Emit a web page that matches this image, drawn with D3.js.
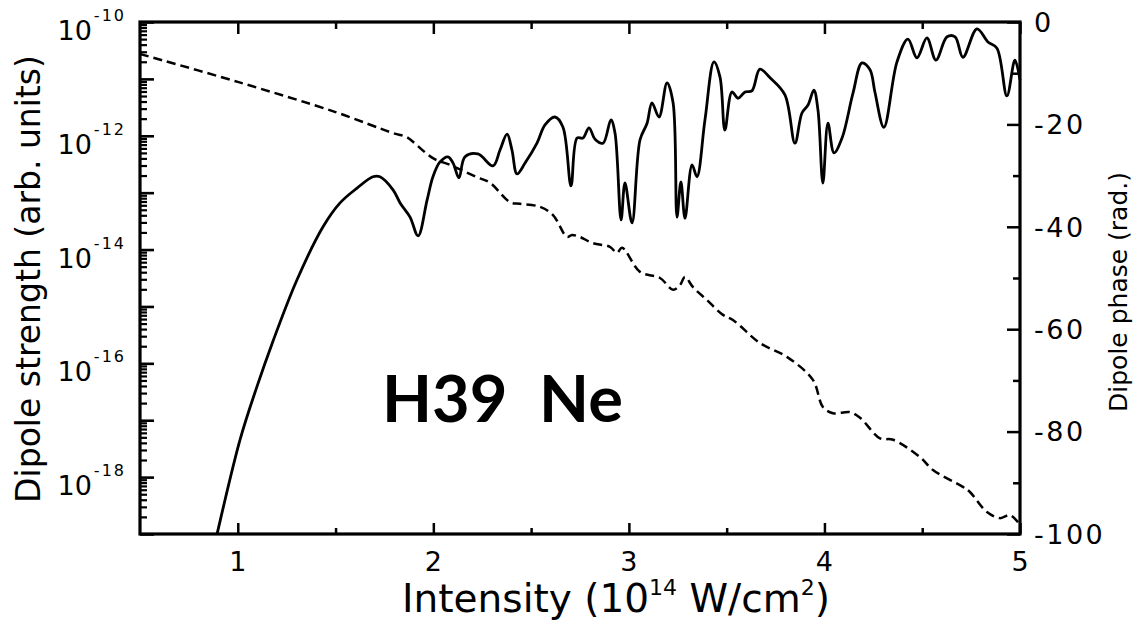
<!DOCTYPE html>
<html>
<head>
<meta charset="utf-8">
<script src="https://cdn.jsdelivr.net/npm/d3@7"></script>
<style>
  html, body { margin: 0; padding: 0; background: #fff; }
  svg { display: block; }
  text { fill: #000; }
</style>
</head>
<body>
<svg id="chart" width="1140" height="621"></svg>
<script>
// ---------- data ----------
// Intensity (10^14 W/cm^2) for the dipole strength curve
const strengthX = [0.868, 0.894, 1.011, 1.098, 1.180, 1.303, 1.436, 1.523, 1.610, 1.691, 1.727, 1.794, 1.830, 1.881, 1.922, 1.968, 1.998, 2.034, 2.075, 2.101, 2.131, 2.162, 2.228, 2.305, 2.341, 2.377, 2.402, 2.428, 2.469, 2.530, 2.571, 2.622, 2.663, 2.704, 2.735, 2.765, 2.796, 2.827, 2.868, 2.908, 2.929, 2.960, 2.980, 3.016, 3.057, 3.093, 3.118, 3.154, 3.195, 3.226, 3.246, 3.266, 3.287, 3.323, 3.348, 3.389, 3.435, 3.466, 3.491, 3.527, 3.558, 3.594, 3.629, 3.670, 3.722, 3.798, 3.849, 3.885, 3.916, 3.946, 3.967, 3.992, 4.018, 4.049, 4.090, 4.146, 4.192, 4.233, 4.258, 4.304, 4.371, 4.427, 4.473, 4.524, 4.570, 4.627, 4.668, 4.708, 4.780, 4.836, 4.882, 4.933, 4.974, 5.000];
// log10 of dipole strength (arb. units)
const strengthLog10 = [-19.39, -19.00, -17.35, -16.41, -15.61, -14.53, -13.60, -13.18, -12.92, -12.72, -12.72, -12.95, -13.18, -13.43, -13.76, -13.13, -12.72, -12.46, -12.37, -12.48, -12.74, -12.37, -12.32, -12.53, -12.25, -11.97, -12.25, -12.67, -12.48, -12.13, -11.81, -11.67, -11.85, -12.88, -12.04, -12.04, -11.86, -12.06, -12.13, -11.72, -11.95, -13.48, -12.83, -13.53, -12.07, -11.78, -11.42, -11.67, -11.07, -11.42, -13.43, -12.81, -13.45, -12.51, -12.72, -11.72, -10.70, -10.97, -11.90, -11.23, -11.34, -11.23, -11.21, -10.83, -10.98, -11.28, -12.13, -11.60, -11.46, -11.20, -11.55, -12.83, -11.78, -12.30, -12.04, -11.25, -10.72, -10.84, -11.23, -11.85, -10.70, -10.30, -10.63, -10.28, -10.67, -10.26, -10.26, -10.62, -10.12, -10.35, -10.46, -11.30, -10.67, -11.02];

// Intensity for the dipole phase curve
const phaseX = [0.5, 1.0, 1.5, 1.794, 1.865, 1.896, 1.998, 2.085, 2.223, 2.290, 2.392, 2.443, 2.546, 2.612, 2.684, 2.709, 2.750, 2.816, 2.903, 2.939, 2.965, 3.057, 3.159, 3.226, 3.261, 3.287, 3.328, 3.399, 3.481, 3.532, 3.670, 3.808, 3.941, 3.992, 4.044, 4.131, 4.182, 4.284, 4.351, 4.489, 4.555, 4.708, 4.744, 4.831, 4.898, 4.949, 4.990];
// Dipole phase (rad.)
const phaseY = [-6.25, -11.7, -17.6, -21.7, -22.5, -23.4, -26.6, -27.9, -30.3, -31.4, -35.2, -35.5, -36.1, -37.7, -42.0, -41.6, -42.0, -43.2, -43.9, -45.1, -44.1, -48.8, -50.0, -52.3, -51.4, -49.8, -51.8, -54.3, -57.2, -58.2, -62.7, -65.4, -69.9, -75.2, -76.4, -76.2, -77.3, -81.3, -81.6, -85.0, -87.5, -90.8, -91.8, -95.7, -96.9, -96.3, -97.7];

// ticks and labels
const xMajorTicks = [1, 2, 3, 4, 5];
const xMinorTicks = [1.5, 2.5, 3.5, 4.5];
const xTickLabels = ["1", "2", "3", "4", "5"];
const yDecadeExps = [-19, -18, -17, -16, -15, -14, -13, -12, -11, -10];
const yLabelExps = [-10, -12, -14, -16, -18];
const phaseMajorTicks = [0, -20, -40, -60, -80, -100];
const phaseMinorTicks = [-10, -30, -50, -70, -90];

const xTitle = ["Intensity (10", "14", " W/cm", "2", ")"];
const yTitle = "Dipole strength (arb. units)";
const y2Title = "Dipole phase (rad.)";
const annotation = "H39  Ne";

// ---------- layout ----------
const W = 1140, H = 621;
const m = { left: 140, top: 22, right: 120, bottom: 87 };
const pw = W - m.left - m.right, ph = H - m.top - m.bottom;
const BASE_FONT = "'DejaVu Sans', sans-serif";

const svg = d3.select("#chart").style("font-family", BASE_FONT);
const g = svg.append("g").attr("transform", `translate(${m.left},${m.top})`);

const x = d3.scaleLinear().domain([0.5, 5]).range([0, pw]);
const y = d3.scaleLog().domain([1e-19, 1e-10]).range([ph, 0]);
const y2 = d3.scaleLinear().domain([-100, 0]).range([ph, 0]);

svg.append("defs").append("clipPath").attr("id", "clip")
  .append("rect").attr("x", 0).attr("y", 0).attr("width", pw + 3).attr("height", ph);

// ---------- curves ----------
const strengthData = strengthX.map((v, i) => ({ x: v, y: Math.pow(10, strengthLog10[i]) }));
const phaseData = phaseX.map((v, i) => ({ x: v, y: phaseY[i] }));

g.append("path")
  .datum(phaseData)
  .attr("clip-path", "url(#clip)")
  .attr("fill", "none").attr("stroke", "#000").attr("stroke-width", 2.5)
  .attr("stroke-dasharray", "9,5")
  .attr("d", d3.line().x(d => x(d.x)).y(d => y2(d.y)).curve(d3.curveCatmullRom.alpha(0.5)));

g.append("path")
  .datum(strengthData)
  .attr("clip-path", "url(#clip)")
  .attr("fill", "none").attr("stroke", "#000").attr("stroke-width", 2.8)
  .attr("stroke-linejoin", "round")
  .attr("d", d3.line().x(d => x(d.x)).y(d => y(d.y)).curve(d3.curveCatmullRom.alpha(0.5)));

// ---------- axes ----------
function styleAxis(sel, w) {
  sel.select(".domain").remove();
  sel.selectAll(".tick line").attr("stroke", "#000").attr("stroke-width", w);
  sel.selectAll(".tick text").remove();
}

// bottom
g.append("g").attr("transform", `translate(0,${ph})`)
  .call(d3.axisBottom(x).tickValues(xMajorTicks).tickSize(-11).tickFormat(""))
  .call(s => styleAxis(s, 2.5));
g.append("g").attr("transform", `translate(0,${ph})`)
  .call(d3.axisBottom(x).tickValues(xMinorTicks).tickSize(-6).tickFormat(""))
  .call(s => styleAxis(s, 2.5));
// top
g.append("g")
  .call(d3.axisTop(x).tickValues(xMajorTicks).tickSize(-12).tickFormat(""))
  .call(s => styleAxis(s, 2.5));
g.append("g")
  .call(d3.axisTop(x).tickValues(xMinorTicks).tickSize(-7).tickFormat(""))
  .call(s => styleAxis(s, 2.5));

// left log axis
const yMinor = [];
yDecadeExps.forEach(e => { if (e < -10) for (let k = 2; k <= 9; k++) yMinor.push(k * Math.pow(10, e)); });
g.append("g")
  .call(d3.axisLeft(y).tickValues(yDecadeExps.map(e => Math.pow(10, e))).tickSize(-14).tickFormat(""))
  .call(s => styleAxis(s, 2.6));
g.append("g")
  .call(d3.axisLeft(y).tickValues(yMinor).tickSize(-7).tickFormat(""))
  .call(s => styleAxis(s, 2.2));

// right linear axis
g.append("g").attr("transform", `translate(${pw},0)`)
  .call(d3.axisRight(y2).tickValues(phaseMajorTicks).tickSize(-13).tickFormat(""))
  .call(s => styleAxis(s, 2.5));
g.append("g").attr("transform", `translate(${pw},0)`)
  .call(d3.axisRight(y2).tickValues(phaseMinorTicks).tickSize(-7).tickFormat(""))
  .call(s => styleAxis(s, 2.5));

// frame
g.append("rect").attr("x", 0).attr("y", 0).attr("width", pw).attr("height", ph)
  .attr("fill", "none").attr("stroke", "#000").attr("stroke-width", 3.2);

// ---------- tick labels ----------
const FS = 27;
xMajorTicks.forEach((v, i) => {
  g.append("text").attr("x", x(v)).attr("y", ph + 37)
    .attr("text-anchor", "middle").attr("font-size", FS).text(xTickLabels[i]);
});

yLabelExps.forEach(e => {
  const t = g.append("text").attr("x", -14).attr("y", y(Math.pow(10, e)) + 18)
    .attr("text-anchor", "end").attr("font-size", FS);
  t.append("tspan").text("10");
  t.append("tspan").attr("font-size", 16).attr("letter-spacing", 2)
    .attr("dy", -19).attr("dx", 2).text(String(e));
});

phaseMajorTicks.forEach(v => {
  g.append("text").attr("x", pw + 14).attr("y", y2(v)).attr("dy", "0.36em")
    .attr("font-size", FS).attr("letter-spacing", 2.5).text(String(v));
});

// ---------- titles ----------
const xt = svg.append("text").attr("x", 616).attr("y", 612)
  .attr("text-anchor", "middle").attr("font-size", 39);
xt.append("tspan").text(xTitle[0]);
xt.append("tspan").attr("font-size", 22).attr("dy", -17).text(xTitle[1]);
xt.append("tspan").attr("dy", 17).text(xTitle[2]);
xt.append("tspan").attr("font-size", 22).attr("dy", -17).text(xTitle[3]);
xt.append("tspan").attr("dy", 17).text(xTitle[4]);

svg.append("text")
  .attr("transform", `translate(40,279) rotate(-90)`)
  .attr("text-anchor", "middle").attr("font-size", 33).text(yTitle);

svg.append("text")
  .attr("transform", `translate(1127,292) rotate(-90)`)
  .attr("text-anchor", "middle").attr("font-size", 25).text(y2Title);

// annotation
svg.append("text").attr("x", 382).attr("y", 422)
  .style("font-family", "Lato, 'Liberation Sans', sans-serif")
  .style("font-weight", "bold")
  .attr("font-size", 65)
  .style("white-space", "pre").text(annotation);
</script>
</body>
</html>
